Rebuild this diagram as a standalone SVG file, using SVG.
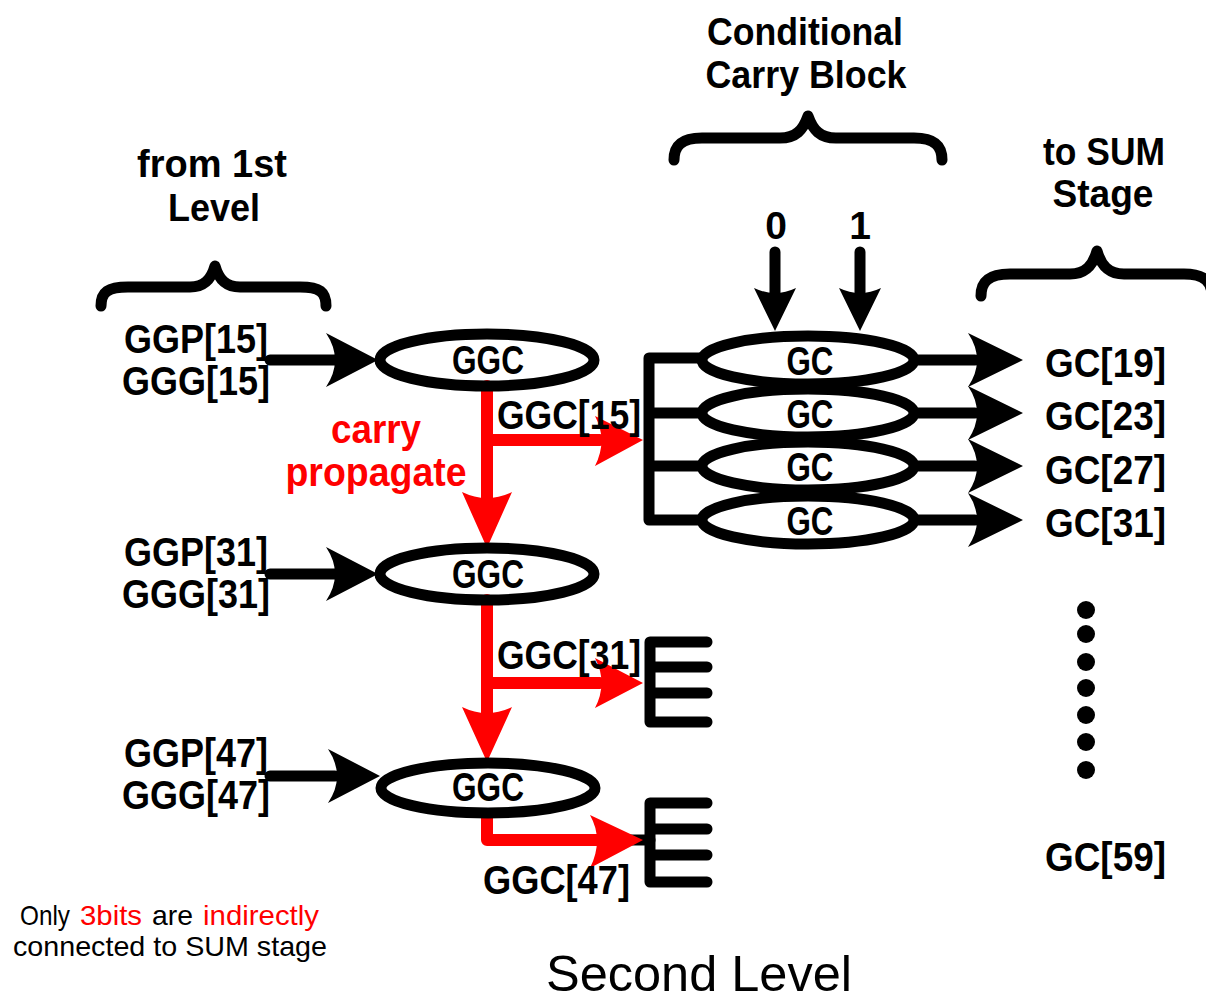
<svg xmlns="http://www.w3.org/2000/svg" width="1206" height="1002" viewBox="0 0 1206 1002">
<style>
.t{font-family:"Liberation Sans",Arial,sans-serif;font-weight:bold;font-size:40px;fill:#000}
.h{font-family:"Liberation Sans",Arial,sans-serif;font-weight:bold;font-size:39px;fill:#000}
.s{font-family:"Liberation Sans",Arial,sans-serif;font-size:28px;fill:#000}
.red{fill:#ff0000}
.k{fill:none;stroke:#000;stroke-width:11;stroke-linecap:round;stroke-linejoin:round}
.r{fill:none;stroke:#ff0000;stroke-width:12;stroke-linecap:round;stroke-linejoin:round}
.ov{fill:none;stroke:#000;stroke-width:11}
.ah{fill:#000}
.rh{fill:#ff0000}
</style>
<rect width="1206" height="1002" fill="#fff"/>

<g id="labels">
<text class="h" x="212" y="177" text-anchor="middle" textLength="150" lengthAdjust="spacingAndGlyphs">from 1st</text>
<text class="h" x="214" y="221" text-anchor="middle" textLength="92" lengthAdjust="spacingAndGlyphs">Level</text>
<text class="h" x="805" y="45" text-anchor="middle" textLength="196" lengthAdjust="spacingAndGlyphs">Conditional</text>
<text class="h" x="806" y="88" text-anchor="middle" textLength="201" lengthAdjust="spacingAndGlyphs">Carry Block</text>
<text class="h" x="1104" y="165" text-anchor="middle" textLength="122" lengthAdjust="spacingAndGlyphs">to SUM</text>
<text class="h" x="1103" y="207" text-anchor="middle" textLength="101" lengthAdjust="spacingAndGlyphs">Stage</text>
<text class="h" x="776" y="239" text-anchor="middle">0</text>
<text class="h" x="860" y="239" text-anchor="middle">1</text>
<text class="t" x="268" y="353" text-anchor="end" textLength="144" lengthAdjust="spacingAndGlyphs">GGP[15]</text>
<text class="t" x="270" y="395" text-anchor="end" textLength="148" lengthAdjust="spacingAndGlyphs">GGG[15]</text>
<text class="t" x="268" y="566" text-anchor="end" textLength="144" lengthAdjust="spacingAndGlyphs">GGP[31]</text>
<text class="t" x="270" y="608" text-anchor="end" textLength="148" lengthAdjust="spacingAndGlyphs">GGG[31]</text>
<text class="t" x="268" y="767" text-anchor="end" textLength="144" lengthAdjust="spacingAndGlyphs">GGP[47]</text>
<text class="t" x="270" y="809" text-anchor="end" textLength="148" lengthAdjust="spacingAndGlyphs">GGG[47]</text>
<text class="t red" x="376" y="443" text-anchor="middle" textLength="90" lengthAdjust="spacingAndGlyphs">carry</text>
<text class="t red" x="376" y="486" text-anchor="middle" textLength="181" lengthAdjust="spacingAndGlyphs">propagate</text>
<text class="t" x="1045" y="871" textLength="121" lengthAdjust="spacingAndGlyphs">GC[59]</text>
<text class="s" x="20" y="925" textLength="50" lengthAdjust="spacingAndGlyphs">Only</text>
<text class="s red" x="80" y="925" textLength="62" lengthAdjust="spacingAndGlyphs">3bits</text>
<text class="s" x="152" y="925" textLength="41" lengthAdjust="spacingAndGlyphs">are</text>
<text class="s red" x="203" y="925" textLength="116" lengthAdjust="spacingAndGlyphs">indirectly</text>
<text class="s" x="13" y="956" textLength="314" lengthAdjust="spacingAndGlyphs">connected to SUM stage</text>
<text x="699" y="991" text-anchor="middle" textLength="306" lengthAdjust="spacingAndGlyphs" style="font-family:'Liberation Sans',Arial,sans-serif;font-size:50px;fill:#000">Second Level</text>
</g>

<g id="braces">
<path class="k" d="M101,306 C101,292 108,287 128,287 L190,287 C204,287 211,280 215,266 C219,280 226,287 240,287 L300,287 C320,287 326,292 326,306"/>
<path class="k" d="M674,160 C674,146 681,138 702,138 L780,138 C796,138 803,130 808,116 C813,130 820,138 836,138 L914,138 C935,138 942,146 942,160"/>
<path class="k" d="M981,296 C981,282 988,274 1010,274 L1070,274 C1086,274 1093,265 1097,251 C1101,265 1108,274 1124,274 L1184,274 C1205,274 1212,282 1212,296"/>
</g>

<g id="connectors">
<path class="k" d="M270,360 H335"/>
<path class="ah" d="M378,360 L326,333 Q344,360 326,387 Z"/>
<path class="k" d="M270,574 H335"/>
<path class="ah" d="M378,574 L326,547 Q344,574 326,601 Z"/>
<path class="k" d="M270,776 H335"/>
<path class="ah" d="M380,776 L328,749 Q346,776 328,803 Z"/>
<path class="k" d="M775,252 V298"/>
<path class="ah" d="M775,331 L754,288 Q775,298 796,288 Z"/>
<path class="k" d="M860,252 V298"/>
<path class="ah" d="M860,331 L839,288 Q860,298 881,288 Z"/>
<path class="k" d="M700,358 H649 V520 H700 M649,413 H700 M649,466 H700"/>
<path class="k" d="M918,360 H975"/>
<path class="ah" d="M1023,360 L968,333 Q986,360 968,387 Z"/>
<path class="k" d="M918,413 H975"/>
<path class="ah" d="M1023,413 L968,386 Q986,413 968,440 Z"/>
<path class="k" d="M918,466 H975"/>
<path class="ah" d="M1023,466 L968,439 Q986,466 968,493 Z"/>
<path class="k" d="M918,520 H975"/>
<path class="ah" d="M1023,520 L968,493 Q986,520 968,547 Z"/>
<path class="k" d="M707,642 H650 V722 H707 M650,667 H707 M650,693 H707"/>
<path class="k" d="M707,803 H650 V882 H707 M650,829 H707 M650,855 H707"/>
<path class="k" d="M620,840 H650"/>
<path class="r" d="M487,386 V500"/>
<path class="rh" d="M487,548 L462,492 Q487,504 512,492 Z"/>
<path class="r" d="M487,440 H600"/>
<path class="rh" d="M643,440 L595,416 Q608,440 595,466 Z"/>
<path class="r" d="M487,600 V715"/>
<path class="rh" d="M487,762 L462,707 Q487,719 512,707 Z"/>
<path class="r" d="M487,683 H600"/>
<path class="rh" d="M643,683 L595,658 Q608,683 595,708 Z"/>
<path class="r" d="M487,814 V840 H600"/>
<path class="rh" d="M643,840 L590,815 Q604,840 590,868 Z"/>
</g>

<g id="ggc15"><ellipse class="ov" cx="487" cy="360" rx="107" ry="26"/><text class="t" x="488" y="374" text-anchor="middle" textLength="72" lengthAdjust="spacingAndGlyphs">GGC</text></g>
<g id="ggc31"><ellipse class="ov" cx="487" cy="574" rx="107" ry="26"/><text class="t" x="488" y="588" text-anchor="middle" textLength="72" lengthAdjust="spacingAndGlyphs">GGC</text></g>
<g id="ggc47"><ellipse class="ov" cx="488" cy="788" rx="107" ry="25"/><text class="t" x="488" y="801" text-anchor="middle" textLength="72" lengthAdjust="spacingAndGlyphs">GGC</text></g>

<g id="gc19"><ellipse class="ov" cx="808" cy="360" rx="106" ry="24"/><text class="t" x="810" y="375" text-anchor="middle" textLength="47" lengthAdjust="spacingAndGlyphs">GC</text></g>
<g id="gc23"><ellipse class="ov" cx="808" cy="413" rx="106" ry="24"/><text class="t" x="810" y="428" text-anchor="middle" textLength="47" lengthAdjust="spacingAndGlyphs">GC</text></g>
<g id="gc27"><ellipse class="ov" cx="808" cy="466" rx="106" ry="24"/><text class="t" x="810" y="481" text-anchor="middle" textLength="47" lengthAdjust="spacingAndGlyphs">GC</text></g>
<g id="gc31"><ellipse class="ov" cx="808" cy="520" rx="106" ry="24"/><text class="t" x="810" y="535" text-anchor="middle" textLength="47" lengthAdjust="spacingAndGlyphs">GC</text></g>

<g id="edge-labels">
<text class="t" x="497" y="429" textLength="144" lengthAdjust="spacingAndGlyphs">GGC[15]</text>
<text class="t" x="497" y="669" textLength="144" lengthAdjust="spacingAndGlyphs">GGC[31]</text>
<text class="t" x="483" y="894" textLength="147" lengthAdjust="spacingAndGlyphs">GGC[47]</text>
<text class="t" x="1045" y="377" textLength="121" lengthAdjust="spacingAndGlyphs">GC[19]</text>
<text class="t" x="1045" y="430" textLength="121" lengthAdjust="spacingAndGlyphs">GC[23]</text>
<text class="t" x="1045" y="484" textLength="121" lengthAdjust="spacingAndGlyphs">GC[27]</text>
<text class="t" x="1045" y="537" textLength="121" lengthAdjust="spacingAndGlyphs">GC[31]</text>
</g>

<g id="dots">
<circle cx="1086" cy="610" r="9"/><circle cx="1086" cy="634" r="9"/><circle cx="1086" cy="662" r="9"/><circle cx="1086" cy="688" r="9"/><circle cx="1086" cy="715" r="9"/><circle cx="1086" cy="742" r="9"/><circle cx="1086" cy="770" r="9"/>
</g>
</svg>
